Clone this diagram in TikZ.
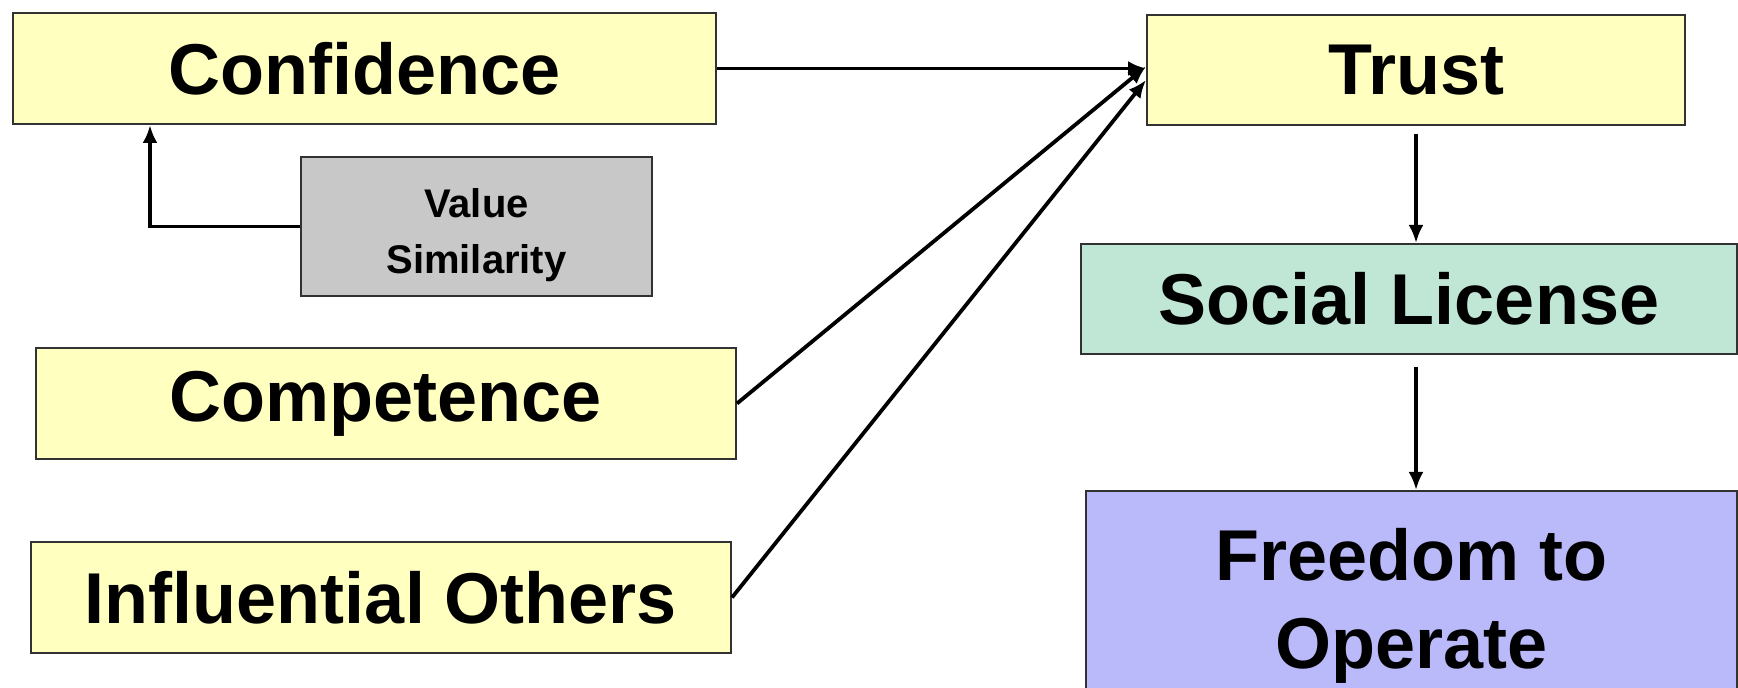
\documentclass[tikz,border=0pt]{standalone}
\usepackage{fontspec}
\setmainfont{Liberation Sans}
\usetikzlibrary{arrows.meta}
\definecolor{boxyellow}{RGB}{255,255,192}
\definecolor{boxgray}{RGB}{200,200,200}
\definecolor{boxgreen}{RGB}{192,230,214}
\definecolor{boxblue}{RGB}{186,186,250}
\definecolor{edge}{RGB}{50,50,50}
\tikzset{
  box/.style={draw=edge, line width=1pt, rectangle, inner sep=0pt, align=center,
     font=\fontsize{36}{44}\selectfont\bfseries},
  smallbox/.style={box, font=\fontsize{20}{28}\selectfont\bfseries},
  arr/.style={-{Latex[length=9pt,width=7.5pt]}, line width=1.9pt, black}
}
\begin{document}
\begin{tikzpicture}[x=0.5pt,y=-0.5pt]
\useasboundingbox[fill=white] (0,0) rectangle (1738,688);
\node[box, fill=boxyellow, minimum width=351.5pt, minimum height=55.5pt] (conf) at (364.5,68.5) {Confidence};
\node[smallbox, fill=boxgray, minimum width=175.5pt, minimum height=69.5pt] (vs) at (476.5,226.5) {\raisebox{-4pt}[\height][\depth]{\begin{tabular}{@{}c@{}}Value\\Similarity\end{tabular}}};
\node[box, fill=boxyellow, minimum width=350pt, minimum height=55.5pt] (comp) at (386,403.5) {Competence};
\node[box, fill=boxyellow, minimum width=350pt, minimum height=55.5pt] (infl) at (381,597.5) {Influential Others};
\node[box, fill=boxyellow, minimum width=269pt, minimum height=55pt] (trust) at (1416,70) {Trust};
\node[box, fill=boxgreen, minimum width=328pt, minimum height=55pt] (social) at (1409,299) {Social License};
\node[box, fill=boxblue, minimum width=325.5pt, minimum height=114.5pt] (free) at (1411.5,605.5) {Freedom to\\Operate};
\draw[arr] (conf.east) -- (conf.east -| trust.west);
\draw[arr] (comp.east) -- ([yshift=1.75pt]trust.west);
\draw[arr] (infl.east) -- ([yshift=-5pt]trust.west);
\draw[arr] (vs.west) -| ([xshift=69pt]conf.south west);
\draw[arr] ([yshift=-4pt]trust.south) -- (social.north -| trust.south);
\draw[arr] ([yshift=-6pt]social.south -| trust.south) -- (free.north -| trust.south);
\end{tikzpicture}
\end{document}
